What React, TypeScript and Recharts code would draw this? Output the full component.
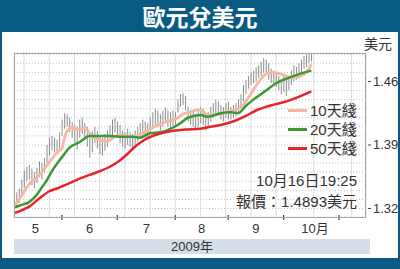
import React from 'react';
import { ComposedChart, Bar, Line, XAxis, YAxis, CartesianGrid } from 'recharts';

// trading-day index: 0 = 2009-05-01
const START = 2;
const highs = [
  1.336, 1.338, 1.342, 1.352, 1.362, 1.366, 1.368, 1.364, 1.360, 1.365,
  1.372, 1.370, 1.376, 1.390, 1.398, 1.400, 1.398, 1.396, 1.404, 1.418,
  1.425, 1.424, 1.420, 1.415, 1.412, 1.410, 1.418, 1.420, 1.414, 1.410,
  1.400, 1.405, 1.410, 1.405, 1.400, 1.398, 1.402, 1.406, 1.412, 1.418,
  1.420, 1.416, 1.412, 1.406, 1.404, 1.408, 1.404, 1.402, 1.406, 1.410,
  1.414, 1.418, 1.416, 1.414, 1.420, 1.426, 1.430, 1.428, 1.424, 1.428,
  1.431, 1.428, 1.426, 1.428, 1.426, 1.440, 1.446, 1.447, 1.444, 1.432,
  1.428, 1.426, 1.424, 1.428, 1.432, 1.430, 1.424, 1.426, 1.432, 1.436,
  1.440, 1.438, 1.434, 1.432, 1.436, 1.438, 1.432, 1.434, 1.436, 1.440,
  1.446, 1.456, 1.462, 1.466, 1.470, 1.472, 1.476, 1.478, 1.482, 1.486,
  1.484, 1.480, 1.474, 1.472, 1.470, 1.466, 1.462, 1.468, 1.462, 1.466,
  1.472, 1.478, 1.476, 1.480, 1.484, 1.488, 1.490, 1.490, 1.491,
];
const lows = [
  1.318, 1.322, 1.326, 1.334, 1.343, 1.350, 1.352, 1.346, 1.342, 1.348,
  1.355, 1.352, 1.360, 1.370, 1.378, 1.384, 1.382, 1.380, 1.386, 1.400,
  1.408, 1.410, 1.404, 1.398, 1.393, 1.385, 1.398, 1.402, 1.396, 1.388,
  1.376, 1.382, 1.392, 1.386, 1.380, 1.378, 1.384, 1.388, 1.394, 1.400,
  1.404, 1.398, 1.392, 1.388, 1.386, 1.390, 1.388, 1.386, 1.390, 1.394,
  1.398, 1.400, 1.398, 1.397, 1.402, 1.408, 1.412, 1.410, 1.406, 1.410,
  1.414, 1.410, 1.408, 1.410, 1.412, 1.426, 1.432, 1.434, 1.428, 1.416,
  1.412, 1.410, 1.408, 1.410, 1.414, 1.412, 1.406, 1.410, 1.416, 1.420,
  1.424, 1.422, 1.418, 1.416, 1.420, 1.418, 1.418, 1.420, 1.422, 1.424,
  1.430, 1.438, 1.446, 1.452, 1.456, 1.458, 1.460, 1.464, 1.466, 1.470,
  1.468, 1.462, 1.458, 1.456, 1.454, 1.450, 1.446, 1.448, 1.444, 1.450,
  1.456, 1.460, 1.462, 1.466, 1.468, 1.474, 1.476, 1.480, 1.482,
];

const ma10Days = [2, 3, 5, 7, 9, 11, 13, 16, 18, 20, 21, 22, 23, 25, 28, 30, 32, 34, 37, 39, 42, 45, 49, 53, 57, 60, 63, 67, 69, 72, 75, 77, 79, 82, 86, 90, 93, 95, 97, 99, 101, 104, 107, 110, 113, 115, 118, 120];
const ma10Vals = [1.324, 1.326, 1.334, 1.343, 1.350, 1.354, 1.360, 1.371, 1.378, 1.384, 1.386, 1.397, 1.405, 1.409, 1.407, 1.409, 1.403, 1.398, 1.395, 1.394, 1.399, 1.401, 1.399, 1.403, 1.409, 1.413, 1.416, 1.420, 1.424, 1.426, 1.429, 1.427, 1.423, 1.423, 1.426, 1.429, 1.434, 1.442, 1.451, 1.459, 1.466, 1.470, 1.469, 1.466, 1.464, 1.465, 1.470, 1.479];

const ma20Days = [2, 5, 8, 11, 13, 15, 17, 20, 22, 24, 28, 32, 36, 40, 44, 49, 52, 56, 60, 65, 68, 71, 76, 79, 84, 88, 91, 94, 97, 100, 103, 106, 111, 116, 120];
const ma20Vals = [1.321, 1.324, 1.327, 1.335, 1.343, 1.351, 1.361, 1.373, 1.380, 1.387, 1.393, 1.400, 1.400, 1.400, 1.399, 1.399, 1.398, 1.403, 1.404, 1.409, 1.414, 1.420, 1.423, 1.421, 1.425, 1.426, 1.425, 1.433, 1.440, 1.446, 1.452, 1.458, 1.464, 1.469, 1.472];

const ma50Days = [2, 5, 8, 12, 16, 20, 24, 28, 32, 36, 40, 44, 47, 50, 54, 58, 62, 66, 70, 76, 80, 84, 90, 94, 98, 102, 106, 110, 115, 120];
const ma50Vals = [1.315, 1.318, 1.322, 1.331, 1.339, 1.343, 1.348, 1.353, 1.357, 1.361, 1.366, 1.373, 1.380, 1.388, 1.396, 1.401, 1.404, 1.406, 1.407, 1.408, 1.410, 1.412, 1.417, 1.422, 1.428, 1.432, 1.435, 1.438, 1.443, 1.449];

const yTicks = [1.32, 1.33, 1.34, 1.35, 1.36, 1.37, 1.38, 1.39, 1.40, 1.41, 1.42, 1.43, 1.44, 1.45, 1.46, 1.47, 1.48, 1.49];
const yLabels = [1.32, 1.39, 1.46];
const monthStarts = [21, 43, 66, 87, 109, 131];
const monthMids = [10.5, 32, 54.5, 76.5, 98, 121.5];
const monthLabels = ['5', '6', '7', '8', '9', '10月'];
const weekStarts = [6, 11, 16, 21, 26, 31, 36, 41, 46, 51, 56, 61, 66, 71, 76, 81, 86, 91, 96, 101, 106, 111, 116, 121, 126, 131, 136];

const legendItems = [
  { label: '10天綫', color: '#f7b8a2' },
  { label: '20天綫', color: '#3c9a36' },
  { label: '50天綫', color: '#e8242a' },
];

const table = highs.map((h, k) => {
  const i = START + k;
  const row: any = { i, hl: [lows[k], h] };
  const a = ma10Days.indexOf(i);
  if (a >= 0) row.ma10 = ma10Vals[a];
  const b = ma20Days.indexOf(i);
  if (b >= 0) row.ma20 = ma20Vals[b];
  const c = ma50Days.indexOf(i);
  if (c >= 0) row.ma50 = ma50Vals[c];
  return row;
});

const FONT = '"Liberation Sans", "Noto Sans CJK TC", sans-serif';
const BLUE = '#0a5b82';

const YTick = (props: any) => {
  const { x, y, payload } = props;
  if (!yLabels.includes(payload.value)) return <g />;
  return (
    <g>
      <line x1={x + 2} x2={x + 5} y1={y} y2={y} stroke="#444" strokeWidth={1} />
      <text x={x + 7} y={y} dy={4.5} fontSize={13} fill="#333" fontFamily={FONT}>
        {payload.value.toFixed(2)}
      </text>
    </g>
  );
};

const XTick = (props: any) => {
  const { x, y, payload } = props;
  const v = payload.value;
  if (monthStarts.includes(v)) {
    return <line x1={x} x2={x} y1={y - 2} y2={y + 3} stroke="#444" strokeWidth={1.2} />;
  }
  const li = monthMids.indexOf(v);
  if (li >= 0) {
    return (
      <text x={x} y={y + 16} textAnchor="middle" fontSize={13} fill="#333" fontFamily={FONT}>
        {monthLabels[li]}
      </text>
    );
  }
  return <g />;
};

const xTicks = [...monthStarts, ...monthMids].sort((a, b) => a - b);

export default function App() {
  return (
    <div style={{ position: 'relative', width: 400, height: 269, background: BLUE, overflow: 'hidden', fontFamily: FONT }}>
      <style>{'body{margin:0}'}</style>
      <div style={{ position: 'absolute', left: 0, top: 0, width: 400, height: 32, lineHeight: '32px', textAlign: 'center', color: '#fff', fontSize: 23, fontWeight: 700, fontFamily: '"Noto Sans CJK TC", sans-serif' }}>
        歐元兌美元
      </div>
      <div style={{ position: 'absolute', left: 2, top: 32, width: 396, height: 226, background: '#fff' }} />
      <div style={{ position: 'absolute', left: 0, top: 0 }}>
        <ComposedChart width={400} height={269} data={table} margin={{ top: 53, right: 4, bottom: 22, left: 14 }}>
          <XAxis xAxisId="grid" dataKey="i" type="number" domain={[2, 141.7]} allowDataOverflow ticks={weekStarts} hide />
          <CartesianGrid xAxisId="grid" horizontal={false} vertical stroke="#dcdcdc" strokeWidth={1} />
          <CartesianGrid horizontal vertical={false} stroke="#c4c4c4" strokeDasharray="1 2" />
          <XAxis dataKey="i" type="number" domain={[2, 141.7]} allowDataOverflow ticks={xTicks} interval={0}
            axisLine={false} tickLine={false} tickSize={0} tickMargin={0} height={30} tick={<XTick />} />
          <YAxis orientation="right" type="number" domain={[1.3106, 1.4914]} allowDataOverflow ticks={yTicks} interval={0}
            axisLine={false} tickLine={false} tickSize={0} tickMargin={0} width={30} tick={<YTick />} />
          <Bar dataKey="hl" barSize={1} fill="#8e8e8e" isAnimationActive={false} />
          <Line dataKey="ma10" type="monotone" stroke="#f7b8a2" strokeWidth={2.8} dot={false} connectNulls isAnimationActive={false} />
          <Line dataKey="ma20" type="monotone" stroke="#3c9a36" strokeWidth={2.5} dot={false} connectNulls isAnimationActive={false} />
          <Line dataKey="ma50" type="monotone" stroke="#e8242a" strokeWidth={2.5} dot={false} connectNulls isAnimationActive={false} />
        </ComposedChart>
      </div>
      <div style={{ position: 'absolute', left: 14, top: 53, width: 352, height: 165, border: '1px solid #a6a6a6', boxSizing: 'border-box', pointerEvents: 'none' }} />
      <div style={{ position: 'absolute', left: 364, top: 35, fontSize: 14, lineHeight: '18px', color: '#333' }}>美元</div>
      {legendItems.map((it, k) => (
        <div key={it.label} style={{ position: 'absolute', left: 288, top: 100.5 + k * 19, height: 19, display: 'flex', alignItems: 'center' }}>
          <div style={{ width: 19, height: 3, background: it.color, marginRight: 3 }} />
          <div style={{ fontSize: 15, lineHeight: '19px', color: '#333' }}>{it.label}</div>
        </div>
      ))}
      <div style={{ position: 'absolute', right: 43, top: 170.5, fontSize: 15, lineHeight: '19px', color: '#333', textAlign: 'right', whiteSpace: 'nowrap' }}>10月16日19:25</div>
      <div style={{ position: 'absolute', right: 43, top: 191.5, fontSize: 15, lineHeight: '19px', color: '#333', textAlign: 'right', whiteSpace: 'nowrap' }}>報價：1.4893美元</div>
      <div style={{ position: 'absolute', left: 14, top: 239, width: 356, height: 15, background: '#d3dee8', textAlign: 'center', fontSize: 13, lineHeight: '15px', color: '#333' }}>2009年</div>
    </div>
  );
}
